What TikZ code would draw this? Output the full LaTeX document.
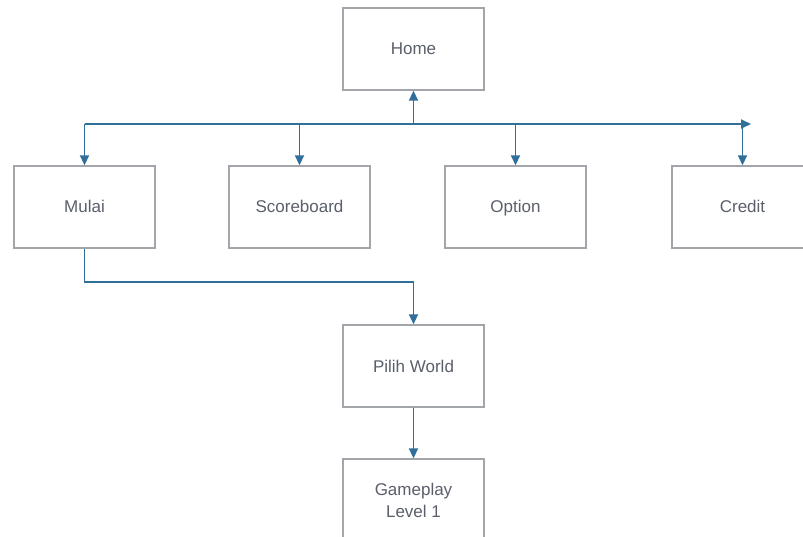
\documentclass[tikz,border=0pt]{standalone}
\usepackage{fontspec}
\setmainfont{Liberation Sans}
\usetikzlibrary{arrows.meta}
\definecolor{linec}{HTML}{2F6F9A}
\definecolor{boxc}{HTML}{A2A6AB}
\definecolor{textc}{HTML}{5A5F6B}
\newcommand\mystrut{\rule[-3pt]{0pt}{18pt}}
\begin{document}
\begin{tikzpicture}[x=1pt,y=-1pt,
  box/.style={draw=boxc,line width=1.4pt,minimum width=141pt,minimum height=82pt,
    inner sep=0pt,text=textc,font=\fontsize{17}{22}\selectfont,align=center},
  conn/.style={draw=linec,line width=1.8pt},
  arr/.style={conn,-{Triangle[length=10pt,width=9pt]}}]
\useasboundingbox (0,0) rectangle (803,537);
\clip (0,0) rectangle (803,537);
\fill[white] (0,0) rectangle (803,537);
\node[box] (home) at (413.5,49) {Home\mystrut};
\node[box] (mulai) at (84.5,207) {Mulai\mystrut};
\node[box] (score) at (299.5,207) {Scoreboard\mystrut};
\node[box] (option) at (515.5,207) {Option\mystrut};
\node[box] (credit) at (742.5,207) {Credit\mystrut};
\node[box] (pilih) at (413.5,366) {Pilih World\mystrut};
\node[box] (game) at (413.5,500) {Gameplay\mystrut\\Level 1\mystrut};
\coordinate (busL) at (84.5,124);
\coordinate (busR) at (751,124);
\coordinate (busH) at (413.5,124);
\draw[arr] (busL) -- (busR);
\draw[arr] (busH) -- (home.south);
\draw[arr] (busL) -- (mulai.north);
\draw[arr] (score.north |- busL) -- (score.north);
\draw[arr] (option.north |- busL) -- (option.north);
\draw[arr] (credit.north |- busL) -- (credit.north);
\draw[arr] (mulai.south) -- ++(0,33) -| (pilih.north);
\draw[arr] (pilih.south) -- (game.north);
\end{tikzpicture}
\end{document}
